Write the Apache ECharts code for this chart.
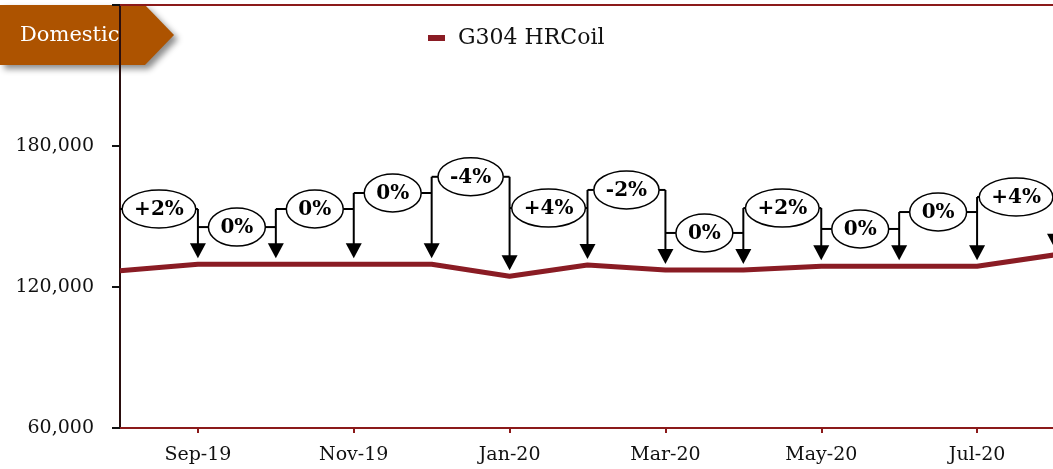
<!DOCTYPE html>
<html>
<head>
<meta charset="utf-8">
<script src="https://cdn.jsdelivr.net/npm/echarts@6/dist/echarts.min.js"></script>
<style>
  html, body { margin: 0; padding: 0; background: #fff; }
  #chart { width: 1053px; height: 469px; }
</style>
</head>
<body>
<div id="chart"></div>
<script>
// months on the x axis (line runs edge to edge)
const months = ['Aug-19', 'Sep-19', 'Oct-19', 'Nov-19', 'Dec-19', 'Jan-20', 'Feb-20',
  'Mar-20', 'Apr-20', 'May-20', 'Jun-20', 'Jul-20', 'Aug-20']
const hrCoil = [126900, 129700, 129700, 129700, 129700, 124600, 129400,
  127200, 127200, 128800, 128800, 128800, 133700]
// month-on-month change into months[i + 1]
const changeLabels = ['+2%', '0%', '0%', '0%', '-4%', '+4%', '-2%', '0%', '+2%', '0%', '0%', '+4%']
// value level where each callout bubble sits
const calloutLevels = [153200, 145500, 153200, 160000, 166900, 153600, 161300,
  143000, 153600, 144700, 151900, 158300]
const yTicks = [60000, 120000, 180000, 240000]

const SERIF = '"DejaVu Serif", "Liberation Serif", serif'
const LINE_RED = '#8a1c24'
const bubbleFont = 'bold 20px ' + SERIF

const measureCtx = document.createElement('canvas').getContext('2d')
function textWidth(t) {
  measureCtx.font = bubbleFont
  return measureCtx.measureText(t).width
}

function fmtNum(v) {
  return String(v).replace(/\B(?=(\d{3})+(?!\d))/g, ',')
}

function renderCallout(params, api) {
  const i = params.dataIndex
  const xPrev = api.coord([i, calloutLevels[i]])[0]
  const cur = api.coord([i + 1, calloutLevels[i]])
  const xCur = cur[0]
  const yc = cur[1]
  const yPt = api.coord([i + 1, hrCoil[i + 1]])[1]
  const next = calloutLevels[i + 1]
  const yTop = next != null ? Math.min(yc, api.coord([i + 1, next])[1]) : yc
  const label = changeLabels[i]
  const rx = textWidth(label) / 2 + 12
  const ry = 19
  const cx = (xPrev + xCur) / 2
  const tipY = yPt - 6
  const headH = 15
  const headW = 8
  const stroke = { stroke: '#000', lineWidth: 2 }
  return {
    type: 'group',
    children: [
      { type: 'line', shape: { x1: xPrev, y1: yc, x2: cx - rx, y2: yc }, style: stroke },
      { type: 'line', shape: { x1: cx + rx, y1: yc, x2: xCur, y2: yc }, style: stroke },
      { type: 'line', shape: { x1: xCur, y1: yTop, x2: xCur, y2: tipY - headH + 1 }, style: stroke },
      {
        type: 'polygon',
        shape: { points: [[xCur - headW, tipY - headH], [xCur + headW, tipY - headH], [xCur, tipY]] },
        style: { fill: '#000' },
      },
      {
        type: 'ellipse',
        shape: { cx: cx, cy: yc, rx: rx, ry: ry },
        style: { fill: '#fff', stroke: '#000', lineWidth: 1.5 },
      },
      {
        type: 'text',
        style: {
          text: label, x: cx, y: yc + 1, align: 'center', verticalAlign: 'middle',
          font: bubbleFont, fill: '#000',
        },
      },
    ],
  }
}

const chart = echarts.init(document.getElementById('chart'))

chart.setOption({
  backgroundColor: '#fff',
  animation: false,
  grid: { left: 120, right: -2, top: 5, bottom: 41, outerBoundsMode: 'none' },
  legend: {
    data: ['G304 HRCoil'],
    left: 423,
    top: 21,
    icon: 'rect',
    itemWidth: 17,
    itemHeight: 6,
    itemGap: 18,
    textStyle: { fontFamily: SERIF, fontSize: 22, color: '#111', lineHeight: 24, padding: [0, 0, 0, 8] },
  },
  xAxis: [
    {
      type: 'category',
      data: months,
      boundaryGap: false,
      axisLine: { lineStyle: { color: '#8b1a1a', width: 2 } },
      axisTick: {
        show: true, length: 5, interval: (idx) => idx % 2 === 1,
        lineStyle: { color: '#8b1a1a', width: 2 },
      },
      axisLabel: {
        interval: (idx) => idx % 2 === 1,
        margin: 18,
        fontFamily: SERIF,
        fontSize: 19,
        color: '#111',
      },
      splitLine: { show: false },
    },
    {
      type: 'category',
      data: months,
      boundaryGap: false,
      position: 'top',
      axisLine: { lineStyle: { color: '#8b1a1a', width: 2 } },
      axisTick: { show: false },
      axisLabel: { show: false },
    },
  ],
  yAxis: {
    type: 'value',
    min: yTicks[0],
    max: yTicks[yTicks.length - 1],
    interval: yTicks[1] - yTicks[0],
    axisLine: { show: true, lineStyle: { color: '#2a0e0e', width: 2 } },
    axisTick: { show: true, length: 8, lineStyle: { color: '#111', width: 2 } },
    splitLine: { show: false },
    axisLabel: {
      margin: 26,
      fontFamily: SERIF,
      fontSize: 19,
      color: '#111',
      formatter: (v) => (v === yTicks[yTicks.length - 1] ? '' : fmtNum(v)),
    },
  },
  series: [
    {
      name: 'G304 HRCoil',
      type: 'line',
      data: hrCoil,
      showSymbol: false,
      symbol: 'none',
      itemStyle: { color: LINE_RED },
      lineStyle: { color: LINE_RED, width: 5 },
      z: 3,
    },
    {
      name: 'changes',
      type: 'custom',
      clip: false,
      silent: true,
      data: changeLabels.map((t, i) => [i + 1, hrCoil[i + 1]]),
      encode: { x: 0, y: 1 },
      renderItem: renderCallout,
      z: 4,
    },
  ],
  graphic: [
    {
      type: 'group',
      z: 100,
      children: [
        {
          type: 'polygon',
          shape: { points: [[0, 5], [145, 5], [174, 35], [145, 65], [0, 65]] },
          style: {
            fill: '#ad5300',
            shadowBlur: 6,
            shadowOffsetX: 4,
            shadowOffsetY: 4,
            shadowColor: 'rgba(0,0,0,0.45)',
          },
        },
        {
          type: 'text',
          style: {
            text: 'Domestic', x: 20, y: 36, verticalAlign: 'middle',
            font: '21px ' + SERIF, fill: '#fff',
          },
        },
      ],
    },
  ],
})
</script>
</body>
</html>
